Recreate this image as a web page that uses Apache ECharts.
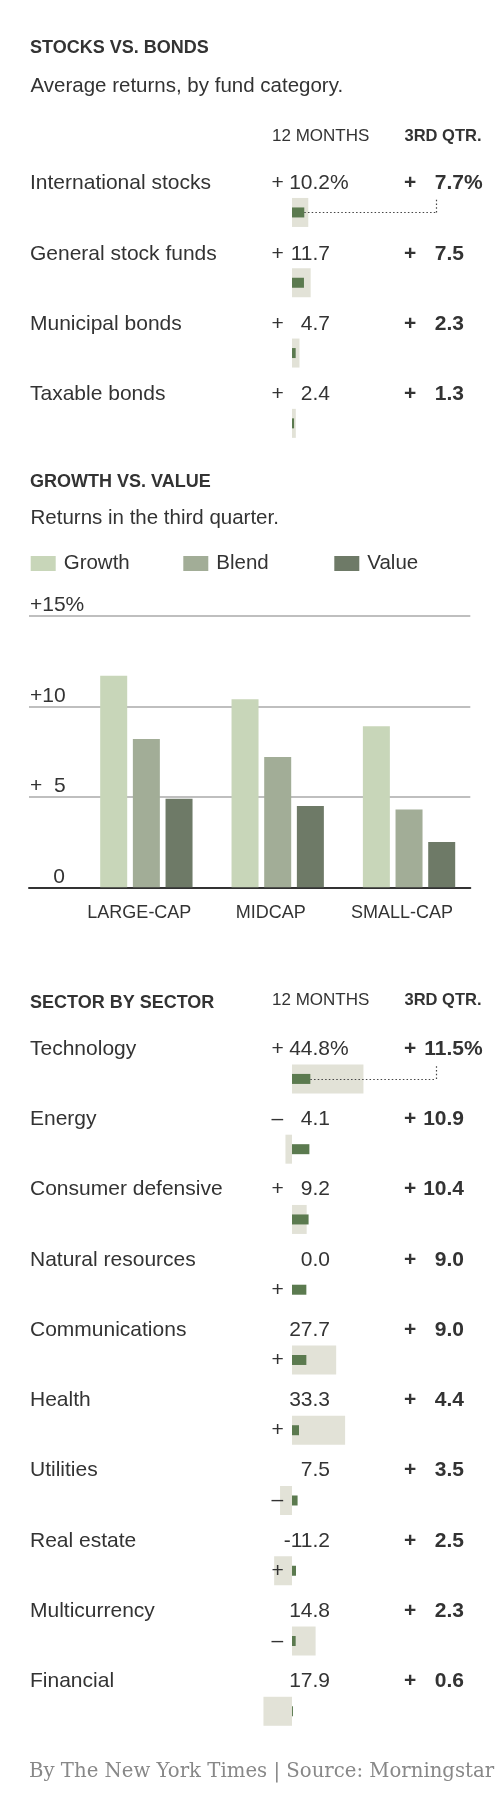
<!DOCTYPE html>
<html>
<head>
<meta charset="utf-8">
<script src="https://cdn.jsdelivr.net/npm/echarts@6/dist/echarts.min.js"></script>
<style>
html, body { margin: 0; padding: 0; background: #fff; }
#c { width: 500px; height: 1816px; }
</style>
</head>
<body>
<div id="c"></div>
<script>
// ---------------- DATA ----------------
// Stocks vs. bonds
const fundCategories = ['International stocks', 'General stock funds', 'Municipal bonds', 'Taxable bonds'];
const fund12m = [10.2, 11.7, 4.7, 2.4];
const fund3q = [7.7, 7.5, 2.3, 1.3];
const fund12mLabels = ['+ 10.2%', '+ 11.7', '+ 4.7', '+ 2.4'];
const fund3qLabels = ['+ 7.7%', '+ 7.5', '+ 2.3', '+ 1.3'];

// Growth vs. value (3rd quarter returns)
const capCategories = ['LARGE-CAP', 'MIDCAP', 'SMALL-CAP'];
const growthValues = [11.7, 10.4, 8.9];
const blendValues = [8.2, 7.2, 4.3];
const valueValues = [4.9, 4.5, 2.5];
const capTickValues = [0, 5, 10, 15];
const capTickLabels = ['0', '+ 5', '+10', '+15%'];

// Sector by sector
const sectorCategories = ['Technology', 'Energy', 'Consumer defensive', 'Natural resources', 'Communications',
  'Health', 'Utilities', 'Real estate', 'Multicurrency', 'Financial'];
const sector12m = [44.8, -4.1, 9.2, 0.0, 27.7, 33.3, -7.5, -11.2, 14.8, -17.9];
const sector3q = [11.5, 10.9, 10.4, 9.0, 9.0, 4.4, 3.5, 2.5, 2.3, 0.6];
const sector12mLabels = ['+44.8%', '– 4.1', '+ 9.2', '0.0', '27.7', '33.3', '7.5', '-11.2', '14.8', '17.9'];
const sector3qLabels = ['+11.5%', '+10.9', '+10.4', '+ 9.0', '+ 9.0', '+ 4.4', '+ 3.5', '+ 2.5', '+ 2.3', '+ 0.6'];
const sectorBarSigns = ['', '', '', '+', '+', '+', '–', '+', '–', ''];

// ---------------- LAYOUT / STYLE ----------------
const FONT = '"Liberation Sans", Arial, sans-serif';
const SERIF = '"DejaVu Serif", "Liberation Serif", serif';
const INK = '#333';
const LIGHT = '#e2e2d7';
const DARK = '#5b7a4f';
const X_MIN = -20, X_MAX = 100;
const ZERO_X = 292, PX_PER_UNIT = 1.595;
const H_LEFT = ZERO_X + X_MIN * PX_PER_UNIT;
const H_WIDTH = (X_MAX - X_MIN) * PX_PER_UNIT;
const LEADER_VALUE = 90.3;
const LIGHT_BAR = 29, DARK_BAR = 10;

const COL = { name: 30, s12: 271.5, n12: 330, p12: 330, s3: 404, n3: 464, p3: 464 };

function splitLabel(s) {
  const m = s.match(/^([+–])?\s*(.*?)(%)?$/);
  return { sign: m[1] || '', num: m[2] || '', pct: m[3] || '' };
}

function labelAxis(gridIndex, cats, x, align, texts, bold) {
  return {
    gridIndex: gridIndex, type: 'category', data: cats, inverse: true, position: 'left', offset: 0, z: 5,
    axisLine: { show: false, onZero: false }, axisTick: { show: false }, splitLine: { show: false },
    axisLabel: {
      show: true, interval: 0, align: align, margin: H_LEFT - x,
      formatter: function (v, i) { return texts[i]; },
      color: INK, fontSize: 21, fontFamily: FONT, fontWeight: bold ? 'bold' : 'normal'
    }
  };
}

function tableAxes(gridIndex, cats, labels12, labels3) {
  const a = labels12.map(splitLabel), b = labels3.map(splitLabel);
  return [
    labelAxis(gridIndex, cats, COL.name, 'left', cats, false),
    labelAxis(gridIndex, cats, COL.s12, 'left', a.map(d => d.sign), false),
    labelAxis(gridIndex, cats, COL.n12, 'right', a.map(d => d.num), false),
    labelAxis(gridIndex, cats, COL.p12, 'left', a.map(d => d.pct), false),
    labelAxis(gridIndex, cats, COL.s3, 'left', b.map(d => d.sign), true),
    labelAxis(gridIndex, cats, COL.n3, 'right', b.map(d => d.num), true),
    labelAxis(gridIndex, cats, COL.p3, 'left', b.map(d => d.pct), true)
  ];
}

function hiddenCat(gridIndex, cats) {
  return { gridIndex: gridIndex, type: 'category', data: cats, inverse: true, show: false, position: 'left',
    axisLine: { show: false, onZero: false } };
}
function hiddenVal(gridIndex) {
  return { gridIndex: gridIndex, type: 'value', min: X_MIN, max: X_MAX, show: false,
    axisLine: { show: false, onZero: false }, splitLine: { show: false } };
}

// Row geometry: ~70.3 px per row; text sits ~30 px above the bar centre
const STOCK_ROW = 70.3, STOCK_BAR_TOP = 177.3, STOCK_TEXT_SHIFT = 29;
const SECTOR_ROW = 70.26, SECTOR_BAR_TOP = 1043.8, SECTOR_TEXT_SHIFT = 30;

const grids = [
  { left: H_LEFT, width: H_WIDTH, top: STOCK_BAR_TOP - STOCK_TEXT_SHIFT, height: STOCK_ROW * fundCategories.length },
  { left: H_LEFT, width: H_WIDTH, top: STOCK_BAR_TOP, height: STOCK_ROW * fundCategories.length },
  { left: 29, width: 441.3, top: 616, height: 271.3 },
  { left: 80.7, width: 394, top: 616, height: 271.3 },
  { left: H_LEFT, width: H_WIDTH, top: SECTOR_BAR_TOP - SECTOR_TEXT_SHIFT, height: SECTOR_ROW * sectorCategories.length },
  { left: H_LEFT, width: H_WIDTH, top: SECTOR_BAR_TOP, height: SECTOR_ROW * sectorCategories.length }
].map(g => Object.assign({ containLabel: false, outerBoundsMode: 'none', show: false }, g));

const xAxes = [
  hiddenVal(0),
  hiddenVal(1),
  { gridIndex: 2, type: 'category', data: capCategories, position: 'bottom',
    axisLine: { show: true, onZero: false, lineStyle: { color: '#333', width: 2 } },
    axisTick: { show: false }, axisLabel: { show: false }, splitLine: { show: false } },
  { gridIndex: 3, type: 'category', data: capCategories, position: 'bottom',
    axisLine: { show: false, onZero: false }, axisTick: { show: false }, splitLine: { show: false },
    axisLabel: { show: true, interval: 0, margin: 17, color: INK, fontSize: 18, fontFamily: FONT,
      padding: [0, 14, 0, 0] } },
  hiddenVal(4),
  hiddenVal(5)
];

const yAxes = [].concat(
  tableAxes(0, fundCategories, fund12mLabels, fund3qLabels),          // 0-6
  [hiddenCat(1, fundCategories), hiddenCat(1, fundCategories)],        // 7,8
  [{ gridIndex: 2, type: 'value', min: 0, max: 15, interval: 5, position: 'left',
     axisLine: { show: false, onZero: false }, axisTick: { show: false },
     splitLine: { show: true, lineStyle: { color: '#aaa', width: 1.5 } },
     axisLabel: { show: true, inside: true, margin: 1, verticalAlign: 'bottom', color: INK, fontSize: 21,
       fontFamily: FONT,
       formatter: function (v) {
         const i = capTickValues.indexOf(v);
         if (i < 0) return '';
         const m = capTickLabels[i].match(/^([+]?)\s*(\d+)(%?)$/);
         return (m[1] || '\u2007') + m[2].padStart(2, '\u2007') + m[3];
       } } },                                                            // 9
   { gridIndex: 3, type: 'value', min: 0, max: 15, interval: 5, show: false,
     axisLine: { show: false, onZero: false }, splitLine: { show: false } }], // 10
  tableAxes(4, sectorCategories, sector12mLabels, sector3qLabels),      // 11-17
  [labelAxis(5, sectorCategories, COL.s12, 'left', sectorBarSigns, false), // 18
   hiddenCat(5, sectorCategories)]                                      // 19
);

function leaderLine(val, cat) {
  return {
    silent: true, symbol: ['none', 'none'], animation: false, label: { show: false },
    lineStyle: { color: '#444', type: [1.5, 2.2], width: 1.2 },
    data: [[{ coord: [val, cat] }, { coord: [LEADER_VALUE, cat] }]]
  };
}

const series = [
  { id: 'stocksLight', type: 'bar', xAxisIndex: 1, yAxisIndex: 7, data: fund12m, barWidth: LIGHT_BAR,
    itemStyle: { color: LIGHT }, silent: true },
  { id: 'stocksDark', type: 'bar', xAxisIndex: 1, yAxisIndex: 8, data: fund3q, barWidth: DARK_BAR,
    itemStyle: { color: DARK }, silent: true, markLine: leaderLine(fund3q[0], fundCategories[0]) },
  { name: 'Growth', type: 'bar', xAxisIndex: 3, yAxisIndex: 10, data: growthValues, barWidth: 27, barGap: '21%',
    itemStyle: { color: '#c8d6b9' }, silent: true },
  { name: 'Blend', type: 'bar', xAxisIndex: 3, yAxisIndex: 10, data: blendValues, barWidth: 27, barGap: '21%',
    itemStyle: { color: '#a2ad97' }, silent: true },
  { name: 'Value', type: 'bar', xAxisIndex: 3, yAxisIndex: 10, data: valueValues, barWidth: 27, barGap: '21%',
    itemStyle: { color: '#6e7a67' }, silent: true },
  { id: 'sectorLight', type: 'bar', xAxisIndex: 5, yAxisIndex: 18, data: sector12m, barWidth: LIGHT_BAR,
    itemStyle: { color: LIGHT }, silent: true },
  { id: 'sectorDark', type: 'bar', xAxisIndex: 5, yAxisIndex: 19, data: sector3q, barWidth: DARK_BAR,
    itemStyle: { color: DARK }, silent: true, markLine: leaderLine(sector3q[0], sectorCategories[0]) }
];

function legendAt(name, left) {
  return { data: [name], left: left, top: 553, padding: 0, itemWidth: 25, itemHeight: 15, icon: 'rect',
    selectedMode: false, textStyle: { color: INK, fontSize: 20.5, fontFamily: FONT, padding: [0, 0, 0, 3] } };
}

function txt(text, x, y, size, opts) {
  opts = opts || {};
  return { type: 'text', x: x, y: y, silent: true,
    style: { text: text, fill: opts.fill || INK, fontSize: size, fontFamily: opts.family || FONT,
      fontWeight: opts.bold ? 'bold' : 'normal', textVerticalAlign: 'middle', verticalAlign: 'middle',
      textAlign: 'left', align: 'left' } };
}

const graphics = [
  txt('STOCKS VS. BONDS', 30, 48.3, 18, { bold: true }),
  txt('Average returns, by fund category.', 30.5, 86, 20.5),
  txt('12 MONTHS', 272, 136.7, 17),
  txt('3RD QTR.', 404.5, 136.7, 16.5, { bold: true }),
  txt('GROWTH VS. VALUE', 30, 481.7, 18, { bold: true }),
  txt('Returns in the third quarter.', 30.5, 518.3, 20.5),
  txt('SECTOR BY SECTOR', 30, 1002.7, 18, { bold: true }),
  txt('12 MONTHS', 272, 1000.7, 17),
  txt('3RD QTR.', 404.5, 1000.7, 16.5, { bold: true }),
  txt('By The New York Times | Source: Morningstar', 29, 1771.7, 19.7, { family: SERIF, fill: '#888' })
];

const chart = echarts.init(document.getElementById('c'), null, { renderer: 'canvas', width: 500, height: 1816 });
chart.setOption({
  animation: false,
  backgroundColor: '#fff',
  textStyle: { fontFamily: FONT },
  grid: grids,
  xAxis: xAxes,
  yAxis: yAxes,
  legend: [legendAt('Growth', 30.7), legendAt('Blend', 183.3), legendAt('Value', 334.3)],
  series: series,
  graphic: graphics
});

// vertical rise of the dotted leader, from the bar row up to the top of the light bar
function addRise(id, seriesIndex, val, cat) {
  const p = chart.convertToPixel({ seriesIndex: seriesIndex }, [LEADER_VALUE, cat]);
  const ml = leaderLine(val, cat);
  ml.data.push([{ x: p[0], y: p[1] }, { x: p[0], y: p[1] - (LIGHT_BAR / 2 - 1) }]);
  return { id: id, markLine: ml };
}
chart.setOption({
  series: [
    addRise('stocksDark', 1, fund3q[0], fundCategories[0]),
    addRise('sectorDark', 6, sector3q[0], sectorCategories[0])
  ]
});
</script>
</body>
</html>
